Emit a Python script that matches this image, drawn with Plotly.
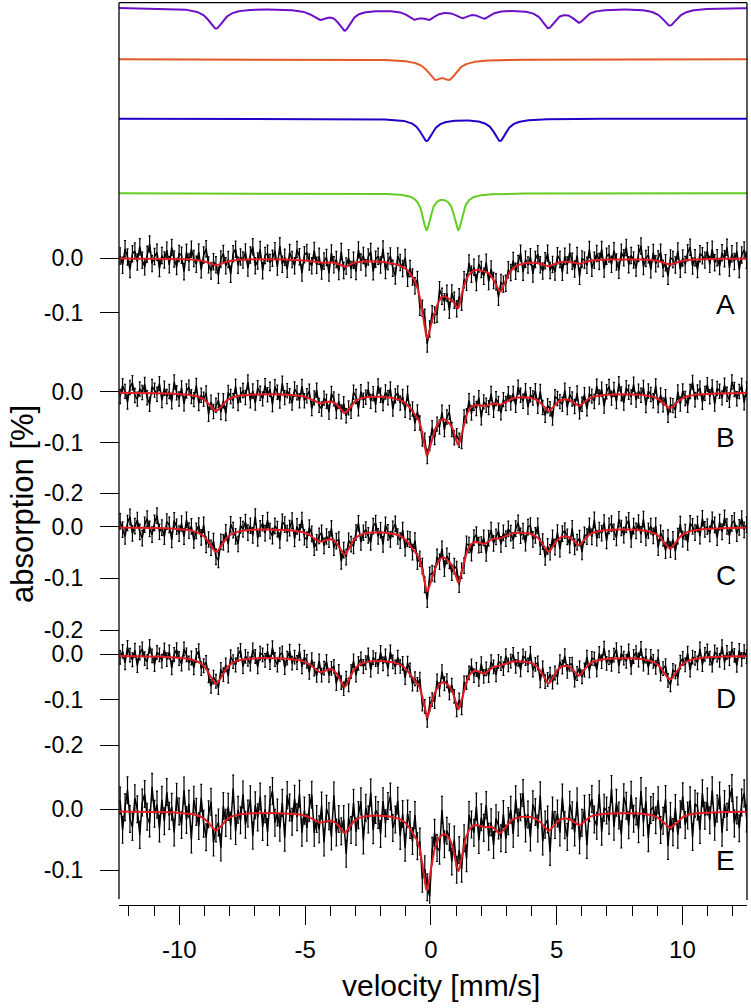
import numpy as np
import plotly.graph_objects as go

# ---------------- data ----------------
VEL_MIN, VEL_MAX = -12.35, 12.55
X_RANGE = [-12.395, 12.565]
X_TICKS = [-10, -5, 0, 5, 10]
X_TICKTEXT = ["-10", "-5", "0", "5", "10"]

# sub-spectrum line lists: position [mm/s], relative depth, FWHM [mm/s]
SEXTET_POS = [-8.54, -4.42, -3.43, -0.68, -0.08, 1.25, 2.11, 4.67, 5.89, 9.50, 0.5]
SEXTET_REL = [1.0, 0.45, 1.0, 0.40, 0.40, 0.35, 0.40, 0.90, 0.62, 0.85, 0.10]
SEXTET_FWHM = [0.72, 0.75, 0.60, 0.60, 0.60, 0.60, 0.60, 0.62, 0.60, 0.72, 14.0]
ORANGE_POS = [0.15, 0.75]
ORANGE_REL = [1.0, 1.0]
ORANGE_FWHM = [0.70, 0.70]
BLUE_POS = [-0.17, 2.75]
BLUE_REL = [1.0, 1.0]
BLUE_FWHM = [0.60, 0.60]
GREEN_POS = [-0.17, 1.09]
GREEN_REL = [1.0, 1.0]
GREEN_FWHM = [0.40, 0.40]

PANELS = ["A", "B", "C", "D", "E"]
PANEL_BASE = [0.0, -0.001, 0.0, -0.0015, -0.003]       # %
SEXTET_AMP = [0.014, 0.040, 0.053, 0.069, 0.035]        # %
ORANGE_AMP = [0.050, 0.030, 0.035, 0.030, 0.012]        # %
BLUE_AMP = [0.056, 0.015, 0.010, 0.008, 0.028]          # %
GREEN_AMP = [0.056, 0.071, 0.068, 0.076, 0.076]         # %
ERR_BAR = [0.015, 0.014, 0.015, 0.015, 0.022]           # %
PANEL_TICKS = [[0.0, -0.1], [0.0, -0.1, -0.2], [0.0, -0.1, -0.2],
               [0.0, -0.1, -0.2], [0.0, -0.1]]

# residuals of measured points around the fit, in 0.001 %
RES_A = [5, -12, 18, 3, -20, 9, 14, -6, 22, -3, -15, 8, 27, -9, 4, 12, -18, 6, -2, 16,
         -11, 21, 0, -14, 10, 7, -23, 13, -5, 19, 2, -8, 15, -17, 11, 24, -4, -13, 6, 1,
         -19, 9, 17, -7, 3, -25, 12, 20, -10, 5, -1, 14, -16, 8, 23, -12, -3, 18, -21, 7,
         11, -6, 2, 16, -14, 25, -9, 4, -18, 13, 0, -11, 19, 6, -24, 10, 15, -2, -8, 21,
         -5, 12, -15, 3, 9, -20, 17, -4, 7, -13, 26, -7, 1, 14, -10, 5, -17, 22, -1, 11,
         -12, 8, 18, -19, 4, 10, -6, 24, -15, 2, 13, -9, -22, 16, 6, -3, 20, -14, 9, 0,
         -8, 15, -18, 7, 23, -11, 3, 12, -5, -16, 19, 1, -10, 8, -20, 14, 5, -2, 17, -13,
         10, -7, 21, -4, 6, -23, 11, 2, -9, 18, -15, 13, -1, 7, -12, 16, 4, -6, 9, -3,
         14, -9, 3, 20, -16, 7, -4, 11, -21, 6, 17, -2, -12, 9, 24, -8, 1, -15, 13, 5,
         -19, 10, -6, 18, 2, -11, 15, -23, 8, 4, -7, 21, -14, 0, 12, -3, 19, -17, 6, 10,
         -9, 16, -5, -20, 13, 3, 22, -10, 7, -1, -16, 11, 25, -13, 2, 9, -18, 14, -6, 4,
         17, -11, 1, -22, 12, 8, -4, 20, -15, 5, -8, 13, 23, -12, 3, -19, 10, 6, -2, 15,
         -10, 18, -7, 2, -14, 11, 0, 21, -17, 9, -5, 14, -20, 7, 16, -3]
RES_B = [-7, 14, 3, -18, 11, 20, -5, -12, 8, 1, 17, -9, -22, 13, 6, -2, 19, -14, 10, -6,
         4, -16, 23, 2, -10, 12, -19, 7, 15, -3, -8, 21, -13, 5, 0, 16, -21, 9, -4, 11,
         18, -11, 6, -24, 14, 3, -7, 20, -15, 1, 9, -5, 25, -12, 7, -17, 13, 2, -9, 17,
         -1, 10, -20, 15, 4, -13, 22, -6, 8, -2, -16, 12, 5, -10, 19, -8, 3, 14, -18, 6,
         24, -4, -11, 9, 1, -21, 16, 7, -14, 11, -3, 18, -7, 2, -12, 20, 8, -19, 13, -5,
         0, 15, -9, 6, -16, 21, 3, -13, 10, -1, 17, -22, 5, 12, -6, 9, -15, 23, -8, 4,
         -18, 11, 1, -10, 16, -3, 7, 19, -14, 2, -11, 14, -20, 8, 22, -5, -9, 13, 6, -17,
         10, -2, 18, -12, 4, -7, 15, -23, 9, 1, -6, 20, -13, 11, 3, -16, 7, -4, 12, -8,
         9, -15, 20, 4, -8, 13, -19, 6, 1, 17, -11, 22, -4, -13, 10, 3, -21, 15, 7, -2,
         -9, 18, -16, 11, 5, -6, 24, -12, 0, 14, -18, 8, 2, -10, 19, -3, 12, -22, 6, 16,
         -7, 10, -14, 21, 1, -17, 13, 4, -5, 20, -11, 7, -1, 15, -20, 9, 3, -8, 23, -13,
         11, -4, 17, -15, 6, 2, -12, 19, -9, 14, -3, -18, 8, 25, -10, 5, 12, -16, 1, 18,
         -6, 13, -21, 10, 4, -9, 16, -2, -14, 22, 7, -11, 3, 15, -19, 8]
RES_C = [12, -4, -17, 9, 21, -11, 3, 15, -8, -20, 6, 18, -2, -13, 10, 24, -7, 1, -16, 13,
         7, -22, 16, 4, -9, 11, -14, 19, -1, 8, -18, 2, 14, -6, 22, -12, 5, -3, 17, -10,
         -19, 9, 0, 13, -15, 20, 6, -8, -24, 11, 3, 16, -5, 8, -11, 25, -17, 2, 12, -7,
         18, -3, -13, 7, 1, -21, 15, 10, -6, 4, 19, -16, 9, -2, 23, -9, -12, 14, 5, -18,
         -4, 11, 17, -10, 6, -1, 21, -14, 3, 13, -20, 8, -7, 16, 0, -11, 10, 24, -15, 2,
         7, -5, -19, 12, 18, -8, 4, -23, 15, 1, -12, 9, 20, -3, -9, 14, -17, 6, 11, -6,
         22, -13, 3, 8, -1, -16, 19, 5, -10, 13, -4, 17, -21, 7, 2, -14, 10, 21, -7, 0,
         -11, 16, 4, -18, 9, 14, -5, -2, 12, -20, 6, 18, -9, 3, 15, -12, 8, -6, 11, 1,
         -14, 8, 19, -6, 3, -20, 12, 16, -9, 1, 23, -12, 5, -17, 10, -3, 18, -8, 14, -22,
         6, 11, -1, -15, 21, -10, 4, 13, -18, 9, 0, 17, -7, 24, -13, 2, -5, 15, -21, 8,
         12, -4, -16, 20, 3, -11, 9, 18, -19, 7, -2, 14, -8, 22, -14, 1, 11, -6, 16, -23,
         10, 5, -12, 19, -3, 13, -17, 6, 24, -9, 2, -20, 15, 8, -5, 11, -13, 21, -1, 4,
         -10, 17, 7, -18, 12, -7, 20, 3, -15, 9, 14, -11, 1, 18, -4, 6]
RES_D = [-3, 10, -15, 19, 2, -8, 13, -21, 7, 16, -5, -12, 22, 1, -18, 9, 4, -10, 15, -6,
         11, -24, 6, 17, -2, -14, 20, 8, -9, 3, -17, 12, 25, -11, 0, 14, -7, -20, 10, 5,
         -13, 18, -4, 9, -22, 16, 2, -8, 13, 21, -16, 6, -1, -12, 19, 4, -19, 11, 7, -5,
         15, -10, 23, -3, -15, 8, 12, -20, 1, 17, -9, 5, -6, 20, -13, 10, 3, -18, 14, -2,
         -11, 24, -7, 6, 18, -14, 2, 9, -23, 13, 0, -5, 16, -10, 7, 21, -17, 4, 11, -8,
         -1, 15, -19, 8, 3, -12, 19, -6, 12, -16, 22, 1, -9, 14, -4, 6, -21, 17, 10, -13,
         5, -2, 20, -15, 9, -7, 13, 2, -18, 16, -11, 24, -3, 7, -14, 11, 1, -8, 18, -20,
         12, -4, 6, 15, -10, 3, -17, 21, -6, 8, -12, 14, 0, -19, 10, 4, -9, 17, -5, 2,
         16, -11, 4, -19, 12, 7, -6, 21, -14, 2, 10, -23, 15, -4, 8, 18, -9, 1, -16, 13,
         -2, 22, -12, 6, 11, -18, 3, 17, -8, -1, 20, -15, 9, 5, -21, 14, -5, 24, -10, 2,
         -13, 7, 19, -17, 11, 0, -7, 16, -20, 4, 13, -3, 23, -11, 8, -16, 10, 1, -9, 18,
         -14, 6, 21, -4, -12, 15, 3, -19, 9, 12, -6, 17, -22, 5, 1, -10, 20, -15, 7, 14,
         -2, -18, 11, 4, -8, 22, -13, 9, -5, 16, 2, -20, 13, -7, 10, -1]
RES_E = [18, -30, 7, 35, -12, -25, 22, 4, -38, 15, 29, -8, -19, 41, -3, 12, -27, 20, -15, 33,
         -6, 9, -33, 26, 2, -20, 37, -11, 16, -42, 24, 5, -17, 31, -9, -28, 14, 40, -22, 3,
         11, -35, 28, -4, 19, -14, 45, -26, 8, -10, 32, -18, 0, 23, -37, 13, -7, 27, -23, 6,
         -31, 21, 36, -16, 1, -24, 17, -40, 30, 10, -13, 25, -5, 34, -29, 8, -19, 15, 39, -21,
         4, -11, 28, -34, 20, 7, -26, 43, -15, 12, -2, 22, -36, 18, -9, 31, -20, 5, 26, -39,
         14, -6, 38, -24, 9, 1, -30, 24, -12, 17, 33, -18, -3, 29, -27, 11, -41, 19, 6, -14,
         35, -8, 13, -25, 21, 3, -33, 16, 27, -10, -22, 41, -16, 8, 2, -29, 23, -5, 32, -19,
         10, -37, 25, 4, -12, 30, -24, 15, -1, 36, -17, 7, -28, 20, 12, -9, 26, -21, 3, 18,
         -24, 31, -8, 16, 39, -19, 4, -33, 22, 11, -14, 44, -27, 6, 18, -36, 27, -2, 13, -21,
         35, -11, -30, 24, 9, -16, 38, -25, 1, 20, -43, 15, 28, -7, -18, 33, -29, 10, 5, -12,
         40, -22, 17, -4, -35, 26, 12, -20, 30, -9, 3, -26, 37, -14, 21, -39, 8, 14, -6, 29,
         -17, 2, 42, -31, 19, -10, 25, -23, 7, 34, -15, -1, 23, -38, 16, 11, -28, 32, -5, 18,
         -13, 36, -24, 6, 27, -34, 13, -8, 21, 39, -19, 2, -27, 15, 30, -11]
RESIDUALS = [RES_A, RES_B, RES_C, RES_D, RES_E]

# top sub-spectra: colours and drawn depths
COMP_COLORS = ["rgb(108,16,200)", "rgb(226,88,40)", "rgb(36,0,200)", "rgb(102,204,34)"]
COMP_DEPTH = [23.4, 20.7, 22.3, 36.7]

# ---------------- layout geometry (pixels) ----------------
W, H = 751, 1008
ML, MR, MT, MB = 119, 4, 3, 103
PH = H - MT - MB
PW = W - ML - MR
TOP_BOX = (3, 238)
COMP_OFFSET = [-4.3, -56.3, -115.7, -190.3]
PANEL_BOX = [(212, 372), (350, 515), (480, 645), (610, 770), (740, 904)]
PANEL_ZERO_PX = [258.3, 391.7, 526.7, 654.3, 809.0]
PANEL_PX_PER_UNIT = [543.0, 508.0, 516.5, 453.5, 610.0]
LABEL_PX = [304, 437, 575, 698, 860]


def py(px):
    return (H - MB - px) / PH


def px_x(px):
    return (px - ML) / PW


def lorentz_sum(v, pos, rel, fwhm):
    out = np.zeros_like(v)
    for p, r, w in zip(pos, rel, fwhm):
        hw = w / 2.0
        out += r / (1.0 + ((v - p) / hw) ** 2)
    return out


v_fine = np.linspace(X_RANGE[0], X_RANGE[1], 1400)

comp_defs = [(SEXTET_POS, SEXTET_REL, SEXTET_FWHM),
             (ORANGE_POS, ORANGE_REL, ORANGE_FWHM),
             (BLUE_POS, BLUE_REL, BLUE_FWHM),
             (GREEN_POS, GREEN_REL, GREEN_FWHM)]
norms = [lorentz_sum(v_fine, *c).max() for c in comp_defs]


def shape(i, v):
    return lorentz_sum(v, *comp_defs[i]) / norms[i]


fig = go.Figure()

# top sub-spectra
for i in range(4):
    fig.add_trace(go.Scatter(x=v_fine, y=COMP_OFFSET[i] - COMP_DEPTH[i] * shape(i, v_fine),
                             mode="lines", line=dict(color=COMP_COLORS[i], width=2),
                             xaxis="x", yaxis="y", showlegend=False, hoverinfo="skip"))

amps = [SEXTET_AMP, ORANGE_AMP, BLUE_AMP, GREEN_AMP]
for k in range(5):
    yname = "y%d" % (k + 2)

    def model(v):
        m = np.full_like(v, PANEL_BASE[k])
        for i in range(4):
            m -= amps[i][k] * shape(i, v)
        return m

    res = np.array(RESIDUALS[k]) * 0.001
    v_ch = np.linspace(VEL_MIN, VEL_MAX, len(res))
    data = model(v_ch) + res
    fig.add_trace(go.Scatter(x=v_ch, y=data, mode="lines",
                             line=dict(color="black", width=1.5),
                             error_y=dict(type="constant", value=ERR_BAR[k],
                                          color="black", thickness=1.2, width=1),
                             xaxis="x", yaxis=yname, showlegend=False, hoverinfo="skip"))
    fig.add_trace(go.Scatter(x=v_fine, y=model(v_fine), mode="lines",
                             line=dict(color="rgb(226,30,36)", width=2),
                             xaxis="x", yaxis=yname, showlegend=False, hoverinfo="skip"))

FONT = "Liberation Sans, Arial, sans-serif"
layout = dict(
    width=W, height=H, margin=dict(l=ML, r=MR, t=MT, b=MB, autoexpand=False),
    paper_bgcolor="white", plot_bgcolor="rgba(0,0,0,0)",
    font=dict(family=FONT, color="black"),
    xaxis=dict(range=X_RANGE, domain=[0, 1], anchor="free", position=0, automargin=False,
               tickmode="array", tickvals=X_TICKS, ticktext=X_TICKTEXT,
               ticks="outside", ticklen=19, tickwidth=1.2, tickcolor="black",
               minor=dict(tickmode="linear", tick0=0, dtick=1, ticks="outside",
                          ticklen=10, tickwidth=1.2, tickcolor="black"),
               showline=True, linecolor="black", linewidth=1.2,
               showgrid=False, zeroline=False,
               tickfont=dict(size=24), ticklabelstandoff=4),
    yaxis=dict(domain=[py(TOP_BOX[1]), py(TOP_BOX[0])], range=[-(TOP_BOX[1] - TOP_BOX[0]), 0],
               visible=False, anchor="x", automargin=False),
)
for k in range(5):
    top, bot = PANEL_BOX[k]
    z, s = PANEL_ZERO_PX[k], PANEL_PX_PER_UNIT[k]
    layout["yaxis%d" % (k + 2)] = dict(
        domain=[py(bot), py(top)], range=[(z - bot) / s, (z - top) / s],
        anchor="free", position=0, automargin=False,
        showline=False, showgrid=False, zeroline=False,
        tickmode="array", tickvals=PANEL_TICKS[k],
        ticktext=["%.1f" % t if t != 0 else "0.0" for t in PANEL_TICKS[k]],
        ticks="outside", ticklen=19, tickwidth=1.2, tickcolor="black",
        tickfont=dict(size=23), ticklabelstandoff=12)
fig.update_layout(**layout)

# frame lines
fig.add_shape(type="line", xref="paper", yref="paper", x0=0, x1=0,
              y0=py(899), y1=py(2.7), line=dict(color="black", width=1.3))
fig.add_shape(type="line", xref="paper", yref="paper", x0=0, x1=1,
              y0=py(2.7), y1=py(2.7), line=dict(color="black", width=1.3))
fig.add_shape(type="line", xref="paper", yref="paper", x0=1, x1=1,
              y0=py(900), y1=py(2.7), line=dict(color="black", width=1.3))

# panel labels
for k in range(5):
    fig.add_annotation(text=PANELS[k], xref="paper", yref="paper",
                       x=px_x(725.7), y=py(LABEL_PX[k]), showarrow=False,
                       xanchor="center", yanchor="middle", font=dict(size=28))
# axis titles
fig.add_annotation(text="absorption [%]", xref="paper", yref="paper",
                   x=px_x(22), y=py(504), textangle=-90, showarrow=False,
                   xanchor="center", yanchor="middle", font=dict(size=31))
fig.add_annotation(text="velocity [mm/s]", xref="paper", yref="paper",
                   x=px_x(441), y=py(985), showarrow=False,
                   xanchor="center", yanchor="middle", font=dict(size=30))

fig.write_html("out.html", config={"displayModeBar": False},
               post_script="document.body.style.margin='0px';document.body.style.padding='0px';")
